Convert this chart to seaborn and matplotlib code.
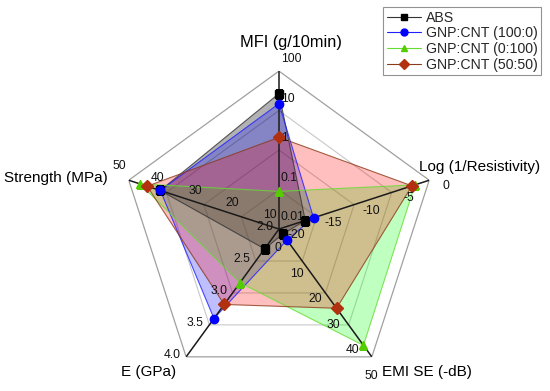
import numpy as np
import matplotlib
matplotlib.use("Agg")
import matplotlib.pyplot as plt
import seaborn as sns
from matplotlib.lines import Line2D

sns.set_style("white")
plt.rcParams['font.family'] = ['Liberation Sans', 'DejaVu Sans']

# axes of the radar, clockwise from the top
axis_names = ['MFI (g/10min)', 'Log (1/Resistivity)', 'EMI SE (-dB)', 'E (GPa)', 'Strength (MPa)']
axis_min = [0.01, -20, 0, 2.0, 10]
axis_max = [100, 0, 50, 4.0, 50]
axis_log = [True, False, False, False, False]
axis_ticks = [
    ['100', '10', '1', '0.1', '0.01'],
    ['0', '-5', '-10', '-15', '-20'],
    ['50', '40', '30', '20', '10', '0'],
    ['4.0', '3.5', '3.0', '2.5', '2.0'],
    ['50', '40', '30', '20', '10'],
]

series = ['ABS', 'GNP:CNT (100:0)', 'GNP:CNT (0:100)', 'GNP:CNT (50:50)']
mfi = [27, 15, 0.09, 2.1]
log_res = [-16.5, -15.4, -1.9, -2.3]
emi = [2.0, 4.3, 45.5, 31.0]
modulus = [2.31, 3.40, 2.84, 3.18]
strength = [41.6, 41.6, 47.0, 45.1]

line_colors = ['#333333', '#2020ff', '#66dd33', '#8b3a1a']
marker_colors = ['#000000', '#0000ff', '#55cc00', '#b03010']
fill_colors = ['#000000', '#0000ff', '#00ff00', '#ff0000']
fill_alpha = [0.30, 0.25, 0.25, 0.25]
markers = ['s', 'o', '^', 'D']


def norm(v, i):
    if axis_log[i]:
        return (np.log10(v) - np.log10(axis_min[i])) / (np.log10(axis_max[i]) - np.log10(axis_min[i]))
    return (v - axis_min[i]) / (axis_max[i] - axis_min[i])


n = len(axis_names)
theta = np.arange(n) * 2 * np.pi / n
theta_c = np.append(theta, theta[0])

fig = plt.figure(figsize=(5.5, 3.91), dpi=100)
ax = fig.add_axes([0.22, 0.0102, 0.5745, 0.808], projection='polar')
ax.set_theta_zero_location('N')
ax.set_theta_direction(-1)
ax.set_ylim(0, 1)
ax.grid(False)
ax.spines['polar'].set_visible(False)
ax.set_xticks([])
ax.set_yticks([])

# pentagon grid
for r in [0.25, 0.5, 0.75]:
    ax.plot(theta_c, [r] * (n + 1), color='#c8c8c8', lw=0.8, zorder=1)
ax.plot(theta_c, [1] * (n + 1), color='#a0a0a0', lw=0.9, zorder=1)

# series polygons
data = [mfi, log_res, emi, modulus, strength]
for k, name in enumerate(series):
    vals = [norm(data[i][k], i) for i in range(n)]
    vals.append(vals[0])
    ax.fill(theta_c, vals, color=fill_colors[k], alpha=fill_alpha[k], lw=0, zorder=2)
    ax.plot(theta_c, vals, color=line_colors[k], lw=0.8, alpha=0.8, zorder=3)

# spokes
for t in theta:
    ax.plot([t, t], [0, 1], color='#1a1a1a', lw=1.1, zorder=4)

for k, name in enumerate(series):
    vals = [norm(data[i][k], i) for i in range(n)]
    ax.plot(theta, vals, ls='none', marker=markers[k], ms=6 if markers[k] != 's' else 5.5,
            color=marker_colors[k], mec=marker_colors[k], zorder=5)

# tick labels, offsets in pixels (x right, y up)
tick_off = [(2, 12, 'left'), (17, -6, 'center'), (-1, -19, 'center'), (-14, 2, 'center'), (-9, 14, 'center')]
for i in range(n):
    labs = axis_ticks[i]
    m = len(labs) - 1
    dx, dy, ha = tick_off[i]
    for j, lab in enumerate(labs):
        r = 1 - j / m
        ax.annotate(lab, xy=(theta[i], r), xytext=(dx * 0.72, dy * 0.72), textcoords='offset points',
                    ha=ha, va='center', fontsize=8.7, color='#111111', zorder=6)

# axis titles
title_pos = [(0, 1.18, 'center', 'center', (12, 0), 11.8), (theta[1], 1.0, 'left', 'center', (-10, 13), 11),
             (theta[2], 1.0, 'left', 'center', (10, -15), 11), (theta[3], 1.0, 'right', 'center', (-10, -15), 11),
             (theta[4], 1.0, 'right', 'center', (-21, 2), 11)]
for i in range(n):
    t, r, ha, va, off, fs = title_pos[i]
    ax.annotate(axis_names[i], xy=(t, r), xytext=(off[0] * 0.72, off[1] * 0.72), textcoords='offset points',
                ha=ha, va=va, fontsize=fs, color='#000000', annotation_clip=False)

handles = [Line2D([0], [0], color=line_colors[k], lw=0.8, marker=markers[k], ms=5,
                  markerfacecolor=marker_colors[k], markeredgecolor=marker_colors[k]) for k in range(len(series))]
leg = fig.legend(handles, series, loc='upper right', bbox_to_anchor=(0.984, 0.982), frameon=True,
                 fancybox=False, edgecolor='#777777', fontsize=10.2, handlelength=2.4, borderpad=0.25,
                 labelspacing=0.12, handletextpad=0.35, borderaxespad=0)
leg.get_frame().set_linewidth(0.8)

fig.savefig('out.png', dpi=100)
